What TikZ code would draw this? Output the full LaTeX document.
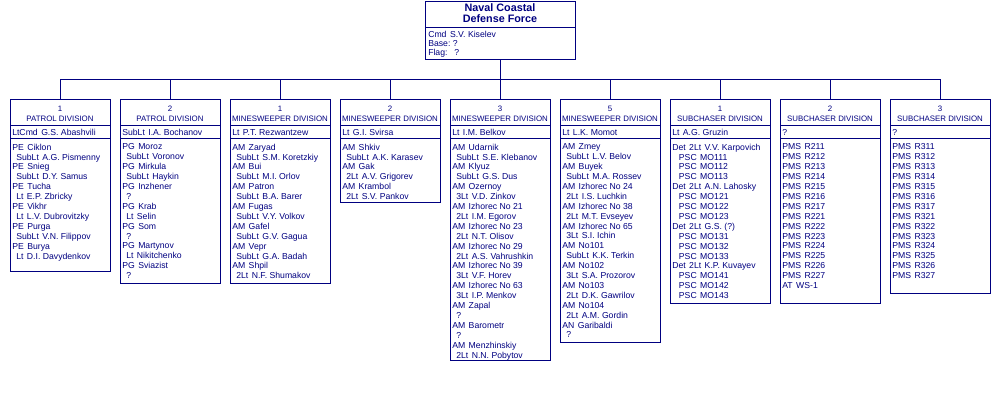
\documentclass[tikz,border=0pt]{standalone}
\usepackage{fontspec}
\setmainfont{Liberation Sans}
\definecolor{navyc}{RGB}{0,0,128}
\newcommand\indA{\hspace*{3pt}}
\newcommand\indB{\hspace*{5pt}}
\newcommand\gp{\hspace{2.6pt}}
\tikzset{
 divbox/.style={draw=navyc, line width=0.75pt, rectangle, inner sep=0pt, minimum width=75pt},
 sepline/.style={draw=navyc, line width=0.75pt},
 conn/.style={draw=navyc, line width=0.75pt},
 divhd/.style={text=navyc, font=\fontsize{5.9pt}{7pt}\selectfont, inner sep=0pt, anchor=base},
 divcmd/.style={text=navyc, font=\fontsize{6.5pt}{7.4pt}\selectfont, inner sep=0pt, anchor=base west},
 divbody/.style={text=navyc, font=\fontsize{6.5pt}{7.425pt}\selectfont, inner sep=0pt, anchor=north west, align=left},
}
\newcommand\division[7]{%
 \pgfmathsetmacro\dh{(#3-99)*0.75}
 \node[divbox, minimum height=\dh pt, anchor=north] (#1) at (#2,99) {};
 \draw[sepline] ({#2-50},125.7) -- ({#2+50},125.7);
 \draw[sepline] ({#2-50},138.3) -- ({#2+50},138.3);
 \node[divhd] (#1n) at (#2,111.1) {#4};
 \node[divhd] (#1t) at (#2,121.1) {#5};
 \node[divcmd] (#1c) at ({#2-48},135.4) {#6};
 \node[divbody] (#1b) at ({#2-48},143.6) {#7};
}
\begin{document}
\begin{tikzpicture}[x=0.75pt,y=-0.75pt]
\useasboundingbox (0,0) rectangle (1000,400);
% top box
\node[divbox, minimum width=112.5pt, minimum height=43.5pt, anchor=north] (top) at (500,1) {};
\draw[sepline] (425,27.7) -- (575,27.7);
\node[text=navyc, inner sep=0pt, align=center, font=\bfseries\fontsize{8.1pt}{8.25pt}\selectfont] (toptitle) at (500,13.3) {Naval Coastal\\Defense Force};
\node[divbody, font=\fontsize{6.5pt}{6.5pt}\selectfont] (topbody) at (428,31.2) {Cmd\gp S.V. Kiselev\\Base:\ ?\\Flag:\gp\gp ?};

\division{d1}{60}{271}{1}{PATROL DIVISION}{LtCmd\gp G.S. Abashvili}{%
PE\gp Ciklon\\\indA SubLt\gp A.G. Pismenny\\PE\gp Snieg\\\indA SubLt\gp D.Y. Samus\\PE\gp Tucha\\\indA Lt\gp E.P. Zbricky\\PE\gp Vikhr\\\indA Lt\gp L.V. Dubrovitzky\\PE\gp Purga\\\indA SubLt\gp V.N. Filippov\\PE\gp Burya\\\indA Lt\gp D.I. Davydenkov}

\division{d2}{170}{283}{2}{PATROL DIVISION}{SubLt\gp I.A. Bochanov}{%
PG\gp Moroz\\\indA SubLt\gp Voronov\\PG\gp Mirkula\\\indA SubLt\gp Haykin\\PG\gp Inzhener\\\indA ?\\PG\gp Krab\\\indA Lt\gp Selin\\PG\gp Som\\\indA ?\\PG\gp Martynov\\\indA Lt\gp Nikitchenko\\PG\gp Sviazist\\\indA ?}

\division{d3}{280}{283}{1}{MINESWEEPER DIVISION}{Lt\gp P.T. Rezwantzew}{%
AM\gp Zaryad\\\indA SubLt\gp S.M. Koretzkiy\\AM\gp Bui\\\indA SubLt\gp M.I. Orlov\\AM\gp Patron\\\indA SubLt\gp B.A. Barer\\AM\gp Fugas\\\indA SubLt\gp V.Y. Volkov\\AM\gp Gafel\\\indA SubLt\gp G.V. Gagua\\AM\gp Vepr\\\indA SubLt\gp G.A. Badah\\AM\gp Shpil\\\indA 2Lt\gp N.F. Shumakov}

\division{d4}{390}{202}{2}{MINESWEEPER DIVISION}{Lt\gp G.I. Svirsa}{%
AM\gp Shkiv\\\indA SubLt\gp A.K. Karasev\\AM\gp Gak\\\indA 2Lt\gp A.V. Grigorev\\AM\gp Krambol\\\indA 2Lt\gp S.V. Pankov}

\division{d5}{500}{360}{3}{MINESWEEPER DIVISION}{Lt\gp I.M. Belkov}{%
AM\gp Udarnik\\\indA SubLt\gp S.E. Klebanov\\AM\gp Klyuz\\\indA SubLt\gp G.S. Dus\\AM\gp Ozernoy\\\indA 3Lt\gp V.D. Zinkov\\AM\gp Izhorec No 21\\\indA 2Lt\gp I.M. Egorov\\AM\gp Izhorec No 23\\\indA 2Lt\gp N.T. Olisov\\AM\gp Izhorec No 29\\\indA 2Lt\gp A.S. Vahrushkin\\AM\gp Izhorec No 39\\\indA 3Lt\gp V.F. Horev\\AM\gp Izhorec No 63\\\indA 3Lt\gp I.P. Menkov\\AM\gp Zapal\\\indA ?\\AM\gp Barometr\\\indA ?\\AM\gp Menzhinskiy\\\indA 2Lt\gp N.N. Pobytov}

\division{d6}{610}{342}{5}{MINESWEEPER DIVISION}{Lt\gp L.K. Momot}{%
AM\gp Zmey\\\indA SubLt\gp L.V. Belov\\AM\gp Buyek\\\indA SubLt\gp M.A. Rossev\\AM\gp Izhorec No 24\\\indA 2Lt\gp I.S. Luchkin\\AM\gp Izhorec No 38\\\indA 2Lt\gp M.T. Evseyev\\AM\gp Izhorec No 65\\\indA 3Lt\gp S.I. Ichin\\AM\gp No101\\\indA SubLt\gp K.K. Terkin\\AM\gp No102\\\indA 3Lt\gp S.A. Prozorov\\AM\gp No103\\\indA 2Lt\gp D.K. Gawrilov\\AM\gp No104\\\indA 2Lt\gp A.M. Gordin\\AN\gp Garibaldi\\\indA ?}

\division{d7}{720}{303}{1}{SUBCHASER DIVISION}{Lt\gp A.G. Gruzin}{%
Det\gp 2Lt\gp V.V. Karpovich\\\indB PSC\gp MO111\\\indB PSC\gp MO112\\\indB PSC\gp MO113\\Det\gp 2Lt\gp A.N. Lahosky\\\indB PSC\gp MO121\\\indB PSC\gp MO122\\\indB PSC\gp MO123\\Det\gp 2Lt\gp G.S. (?)\\\indB PSC\gp MO131\\\indB PSC\gp MO132\\\indB PSC\gp MO133\\Det\gp 2Lt\gp K.P. Kuvayev\\\indB PSC\gp MO141\\\indB PSC\gp MO142\\\indB PSC\gp MO143}

\division{d8}{830}{303}{2}{SUBCHASER DIVISION}{?}{%
PMS\gp R211\\PMS\gp R212\\PMS\gp R213\\PMS\gp R214\\PMS\gp R215\\PMS\gp R216\\PMS\gp R217\\PMS\gp R221\\PMS\gp R222\\PMS\gp R223\\PMS\gp R224\\PMS\gp R225\\PMS\gp R226\\PMS\gp R227\\AT\gp WS-1}

\division{d9}{940}{293}{3}{SUBCHASER DIVISION}{?}{%
PMS\gp R311\\PMS\gp R312\\PMS\gp R313\\PMS\gp R314\\PMS\gp R315\\PMS\gp R316\\PMS\gp R317\\PMS\gp R321\\PMS\gp R322\\PMS\gp R323\\PMS\gp R324\\PMS\gp R325\\PMS\gp R326\\PMS\gp R327}

% connectors
\coordinate (bus) at (500,79);
\draw[conn] (top.south) -- (top.south |- bus);
\foreach \i in {1,...,9} {\draw[conn] (d\i.north) -- (d\i.north |- bus);}
\draw[conn] (d1.north |- bus) -- (d9.north |- bus);
\end{tikzpicture}
\end{document}
